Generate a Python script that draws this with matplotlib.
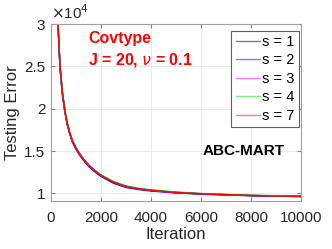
import matplotlib
matplotlib.use("Agg")
import matplotlib.pyplot as plt

plt.rcParams['font.family'] = ['Liberation Sans', 'DejaVu Sans']

# iterations and testing error (x 1e4)
iters = [150, 200, 280, 360, 450, 550, 650, 750, 850, 1000, 1150, 1300, 1500,
         1750, 2000, 2500, 3000, 3500, 4000, 5000, 6000, 7000, 8000, 9000, 10000]
err_s1 = [3.9, 3.5, 3.0, 2.5, 2.2, 1.98, 1.82, 1.71, 1.62, 1.53, 1.46, 1.40, 1.33,
          1.265, 1.21, 1.13, 1.08, 1.053, 1.035, 1.010, 0.995, 0.985, 0.975, 0.970, 0.965]
err_s2 = [3.9, 3.5, 2.98, 2.48, 2.18, 1.97, 1.81, 1.70, 1.61, 1.52, 1.45, 1.39, 1.32,
          1.255, 1.20, 1.12, 1.07, 1.045, 1.028, 1.005, 0.990, 0.980, 0.972, 0.967, 0.962]
err_s3 = [3.9, 3.5, 2.99, 2.49, 2.19, 1.98, 1.82, 1.71, 1.62, 1.53, 1.46, 1.40, 1.33,
          1.265, 1.21, 1.13, 1.078, 1.051, 1.033, 1.009, 0.994, 0.984, 0.975, 0.969, 0.964]
err_s4 = [3.9, 3.52, 3.02, 2.52, 2.22, 2.00, 1.84, 1.725, 1.635, 1.545, 1.47, 1.41, 1.34,
          1.275, 1.22, 1.14, 1.088, 1.060, 1.042, 1.016, 0.999, 0.988, 0.978, 0.972, 0.967]
err_s7 = [3.9, 3.51, 3.01, 2.51, 2.21, 1.99, 1.83, 1.715, 1.625, 1.535, 1.465, 1.405, 1.335,
          1.268, 1.212, 1.132, 1.082, 1.055, 1.036, 1.011, 0.996, 0.985, 0.975, 0.969, 0.964]

series = [("s = 1", err_s1, "black"),
          ("s = 2", err_s2, "blue"),
          ("s = 3", err_s3, "magenta"),
          ("s = 4", err_s4, "#00dd00"),
          ("s = 7", err_s7, "red")]

fig = plt.figure(figsize=(3.32, 2.49), dpi=100)
ax = fig.add_axes([0.1536, 0.1928, 0.753, 0.7108])

for label, vals, color in series:
    ax.plot(iters, vals, color=color, lw=1.0, label=label)

ax.set_xlim(0, 10000)
ax.set_ylim(0.91, 3.0)
ax.set_xticks([0, 2000, 4000, 6000, 8000, 10000])
ax.set_yticks([1, 1.5, 2, 2.5, 3])
ax.set_yticklabels(["1", "1.5", "2", "2.5", "3"])
ax.grid(True, color="#e6e6e6", lw=0.6)
ax.set_axisbelow(True)
for sp in ax.spines.values():
    sp.set_color("#a0a0a0")
    sp.set_linewidth(0.8)
ax.tick_params(direction="in", length=3, color="#808080", labelsize=11,
               labelcolor="#262626", top=True, right=True)
ax.tick_params(axis="x", pad=7)
ax.tick_params(axis="y", pad=4)

ax.set_xlabel("Iteration", fontsize=12, color="#262626", labelpad=2)
ax.set_ylabel("Testing Error", fontsize=12, color="#262626", labelpad=3)
ax.text(0.0, 1.01, r"$\times$10$^4$", transform=ax.transAxes, fontsize=11,
        color="#262626", ha="left", va="bottom")

ax.text(0.148, 0.92, "Covtype", transform=ax.transAxes, color="red",
        fontsize=11.5, fontweight="bold", va="center")
ax.text(0.148, 0.797, r"J = 20, $\nu$ = 0.1", transform=ax.transAxes, color="red",
        fontsize=11.5, fontweight="bold", va="center")
ax.text(0.606, 0.28, "ABC-MART", transform=ax.transAxes, color="black",
        fontsize=11, fontweight="bold", va="center")

leg = ax.legend(loc="upper right", fontsize=10.5, handlelength=1.7, handletextpad=0.15,
                borderaxespad=0.0, borderpad=0.3, labelspacing=0.3,
                fancybox=False, framealpha=1, bbox_to_anchor=(0.993, 0.962))
leg.get_frame().set_edgecolor("#606060")
leg.get_frame().set_linewidth(0.8)
for h in leg.get_lines():
    h.set_alpha(0.5)

fig.savefig("out.png", dpi=100)
